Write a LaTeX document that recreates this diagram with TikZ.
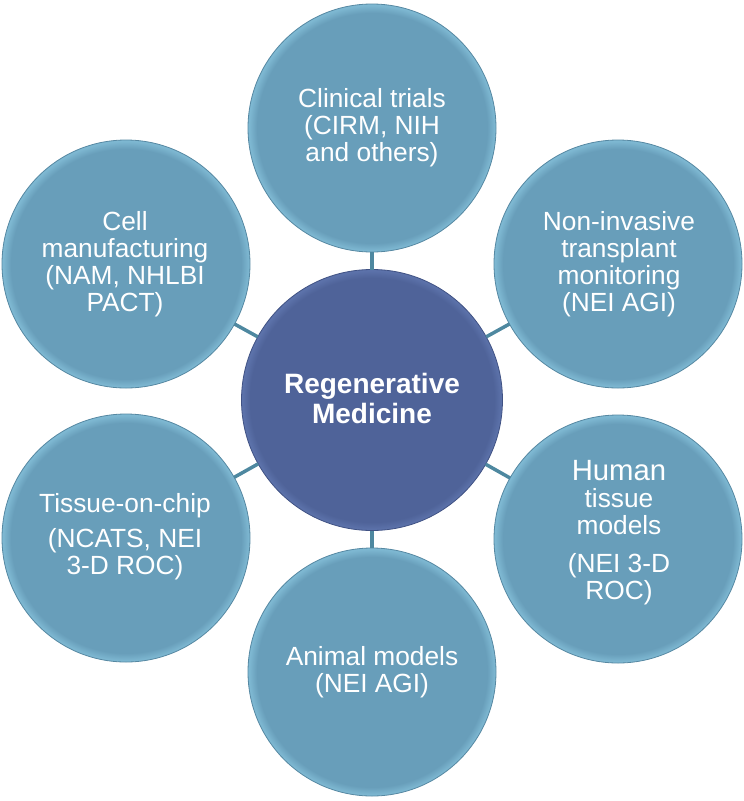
\documentclass[tikz,border=0pt]{standalone}
\usepackage{fontspec}
\setmainfont{Liberation Sans}
\definecolor{ofill}{RGB}{104,158,186}
\definecolor{orim}{RGB}{126,184,210}
\definecolor{oborder}{RGB}{86,136,162}
\definecolor{cfill}{RGB}{79,99,153}
\definecolor{crim}{RGB}{92,114,170}
\definecolor{cborder}{RGB}{64,82,132}
\definecolor{conncol}{RGB}{78,136,160}
\pgfdeclareradialshading{obubble}{\pgfpoint{0bp}{0bp}}{color(0bp)=(ofill); color(23.2bp)=(ofill); color(24.8bp)=(orim); color(25bp)=(orim); color(50bp)=(orim)}
\pgfdeclareradialshading{cbubble}{\pgfpoint{0bp}{0bp}}{color(0bp)=(cfill); color(23.4bp)=(cfill); color(24.8bp)=(crim); color(25bp)=(crim); color(50bp)=(crim)}
\begin{document}
\begin{tikzpicture}[x=1pt,y=-1pt,
  outer/.style={circle, minimum size=248pt, inner sep=0pt, outer sep=0pt, shade, shading=obubble, draw=oborder, line width=0.8pt},
  hub/.style={circle, minimum size=261pt, inner sep=0pt, outer sep=0pt, shade, shading=cbubble, draw=cborder, line width=0.8pt},
  lbl/.style={align=center, text=white, inner sep=0pt, font=\fontsize{26.3}{27}\selectfont},
  hublbl/.style={align=center, text=white, inner sep=0pt, font=\bfseries\fontsize{28}{30}\selectfont},
  conn/.style={draw=conncol, line width=3.5pt}]
\useasboundingbox[fill=white] (0,0) rectangle (744,801);
\node[hub] (hub) at (372,400) {};
\node[outer] (clin) at (372,128) {};
\node[outer] (cell) at (126,264) {};
\node[outer] (noninv) at (618,264) {};
\node[outer] (chip) at (126,538) {};
\node[outer] (human) at (618,539) {};
\node[outer] (animal) at (372,672) {};
\draw[conn] (hub) -- (clin);
\draw[conn] (hub) -- (cell);
\draw[conn] (hub) -- (noninv);
\draw[conn] (hub) -- (chip);
\draw[conn] (hub) -- (human);
\draw[conn] (hub) -- (animal);
\node[hublbl] (hubt) at (372,398) {Regenerative\\Medicine};
\node[lbl] (clint) at (372,128) {Clinical trials\\(CIRM, NIH\\and others)};
\node[lbl] (cellt) at (125,264) {Cell\\manufacturing\\(NAM, NHLBI\\PACT)};
\node[lbl] (noninvt) at (619,264) {Non-invasive\\transplant\\monitoring\\(NEI AGI)};
\node[lbl] (chipt) at (125,537) {Tissue-on-chip\\[8pt](NCATS, NEI\\3-D ROC)};
\node[lbl] (humant) at (619,533) {\fontsize{29.3}{26.5}\selectfont Human\\tissue\\models\\[11pt]\fontsize{26.3}{27}\selectfont(NEI 3-D\\ROC)};
\node[lbl] (animalt) at (372,672) {Animal models\\(NEI AGI)};
\end{tikzpicture}
\end{document}
